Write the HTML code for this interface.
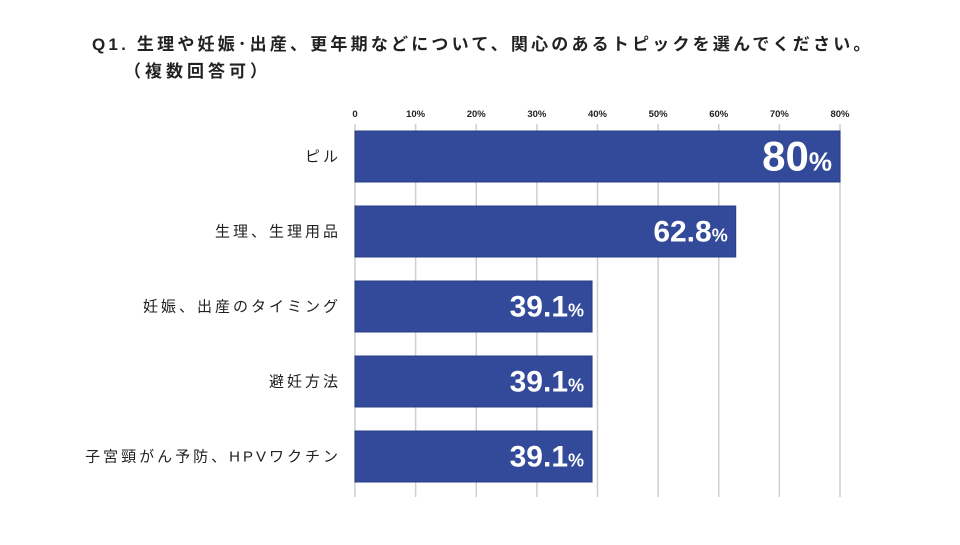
<!DOCTYPE html>
<html><head><meta charset="utf-8"><style>
body{margin:0;background:#fff;width:960px;height:540px;overflow:hidden;font-family:"Liberation Sans","Noto Sans CJK JP",sans-serif;}
svg text{font-family:"Liberation Sans","Noto Sans CJK JP",sans-serif;}
</style></head><body>
<svg width="960" height="540">
<text x="92" y="50" font-size="17" font-weight="bold" fill="#222" letter-spacing="3.2">Q1. 生理や妊娠･出産、更年期などについて、関心のあるトピックを選んでください。</text>
<text x="124" y="77" font-size="17" font-weight="bold" fill="#222" letter-spacing="4">（複数回答可）</text>
<g id="grid"></g><g id="bars"></g>
</svg>
<script>
const categories=["ピル","生理、生理用品","妊娠、出産のタイミング","避妊方法","子宮頸がん予防、HPVワクチン"];
const values=[80,62.8,39.1,39.1,39.1];
const labels=["80","62.8","39.1","39.1","39.1"];
const ticks=[0,10,20,30,40,50,60,70,80];
const tickLabels=["0","10%","20%","30%","40%","50%","60%","70%","80%"];
const NS="http://www.w3.org/2000/svg";
const x0=355,x1=840,vmax=80;
const xs=v=>x0+(x1-x0)*v/vmax;
const y=i=>131+i*75;
const bh=51;
const g=document.getElementById('grid'),b=document.getElementById('bars');
function mk(t,a,p){const e=document.createElementNS(NS,t);for(const k in a)e.setAttribute(k,a[k]);p.appendChild(e);return e;}
ticks.forEach((t,i)=>{
 const l=mk('line',{x1:xs(t),x2:xs(t),y1:124,y2:497,stroke:'#cfcfcf','stroke-width':1.5},g);
 
 
 const tx=mk('text',{x:xs(t),y:117,'font-size':9.5,'font-weight':'bold','text-anchor':'middle',fill:'#222'},g);
 tx.textContent=tickLabels[i];
 
 
});
categories.forEach((c,i)=>{
 const r=mk('rect',{x:x0,y:y(i),width:xs(values[i])-x0,height:bh,fill:'#334a9a',stroke:'#2a3f88','stroke-width':1},b);
 
 
 const ct=mk('text',{x:341,y:y(i)+bh/2+5,'font-size':15,'letter-spacing':3,'text-anchor':'end',fill:'#222'},b);
 ct.textContent=c;
 
 
 const big=i===0;
 const vt=mk('text',{x:xs(values[i])-8,y:y(i)+bh/2+(big?14:10),'text-anchor':'end',fill:'#fff','font-weight':'bold'},b);
 const s1=mk('tspan',{'font-size':big?42:30},vt);s1.textContent=labels[i];
 const s2=mk('tspan',{'font-size':big?26:18},vt);s2.textContent='%';
 
 
});
</script>
</body></html>
